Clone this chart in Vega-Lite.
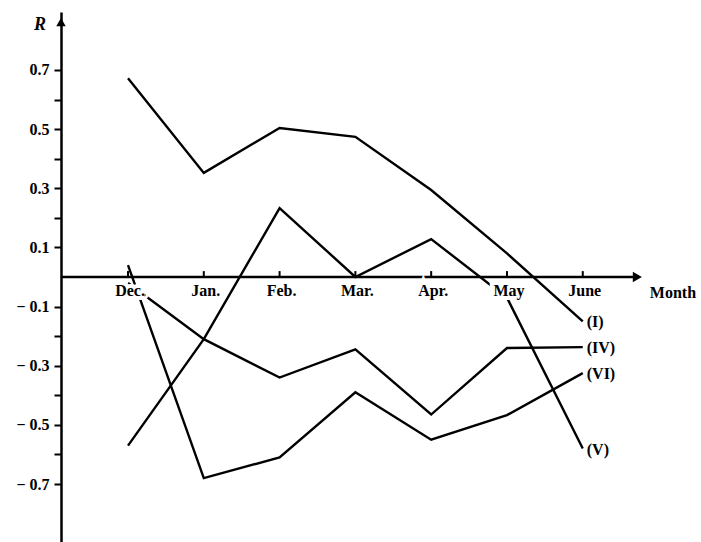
{
  "$schema": "https://vega.github.io/schema/vega-lite/v6.json",
  "width": 640,
  "height": 530,
  "autosize": "none",
  "padding": {"left": 61, "top": 12, "right": 0, "bottom": 0},
  "background": "white",
  "config": {"view": {"stroke": null}, "font": "Liberation Serif"},
  "datasets": {
    "series": [
      {"series": "I", "label": "(I)", "order": 1, "r": 0.672},
      {"series": "I", "label": "(I)", "order": 2, "r": 0.352},
      {"series": "I", "label": "(I)", "order": 3, "r": 0.504},
      {"series": "I", "label": "(I)", "order": 4, "r": 0.474},
      {"series": "I", "label": "(I)", "order": 5, "r": 0.294},
      {"series": "I", "label": "(I)", "order": 6, "r": 0.08},
      {"series": "I", "label": "(I)", "order": 7, "r": -0.15},
      {"series": "IV", "label": "(IV)", "order": 1, "r": -0.02},
      {"series": "IV", "label": "(IV)", "order": 2, "r": -0.21},
      {"series": "IV", "label": "(IV)", "order": 3, "r": -0.34},
      {"series": "IV", "label": "(IV)", "order": 4, "r": -0.245},
      {"series": "IV", "label": "(IV)", "order": 5, "r": -0.465},
      {"series": "IV", "label": "(IV)", "order": 6, "r": -0.24},
      {"series": "IV", "label": "(IV)", "order": 7, "r": -0.237},
      {"series": "V", "label": "(V)", "order": 1, "r": -0.57},
      {"series": "V", "label": "(V)", "order": 2, "r": -0.21},
      {"series": "V", "label": "(V)", "order": 3, "r": 0.233},
      {"series": "V", "label": "(V)", "order": 4, "r": 0.0},
      {"series": "V", "label": "(V)", "order": 5, "r": 0.128},
      {"series": "V", "label": "(V)", "order": 6, "r": -0.07},
      {"series": "V", "label": "(V)", "order": 7, "r": -0.58},
      {"series": "VI", "label": "(VI)", "order": 1, "r": 0.04},
      {"series": "VI", "label": "(VI)", "order": 2, "r": -0.68},
      {"series": "VI", "label": "(VI)", "order": 3, "r": -0.61},
      {"series": "VI", "label": "(VI)", "order": 4, "r": -0.39},
      {"series": "VI", "label": "(VI)", "order": 5, "r": -0.55},
      {"series": "VI", "label": "(VI)", "order": 6, "r": -0.467},
      {"series": "VI", "label": "(VI)", "order": 7, "r": -0.325}
    ],
    "months": [
      {"order": 1, "month": "Dec."},
      {"order": 2, "month": "Jan."},
      {"order": 3, "month": "Feb."},
      {"order": 4, "month": "Mar."},
      {"order": 5, "month": "Apr."},
      {"order": 6, "month": "May"},
      {"order": 7, "month": "June"}
    ],
    "one": [{"k": 1}]
  },
  "layer": [
    {
      "data": {"name": "one"},
      "mark": {"type": "rule", "color": "black", "strokeWidth": 2.5},
      "encoding": {
        "x": {"datum": 0.116, "type": "quantitative", "scale": {"domain": [0.116, 8.56], "nice": false, "zero": false}, "axis": null},
        "x2": {"datum": 7.7},
        "y": {
          "datum": 0, "type": "quantitative",
          "scale": {"domain": [-0.896, 0.896], "nice": false, "zero": false},
          "axis": {
            "values": [-0.7, -0.6, -0.5, -0.4, -0.3, -0.2, -0.1, 0.1, 0.2, 0.3, 0.4, 0.5, 0.6, 0.7],
            "labelExpr": "round(abs(datum.value)*10) % 2 == 1 ? (datum.value > 0 ? format(datum.value, '.1f') : '\u2212 ' + format(-datum.value, '.1f')) : ''",
            "domain": true, "domainColor": "black", "domainWidth": 2.5,
            "ticks": true, "tickColor": "black", "tickWidth": 2, "tickSize": 7,
            "labelFont": "Liberation Serif", "labelFontWeight": "bold", "labelFontSize": 16, "labelColor": "black",
            "labelPadding": 5, "labelBaseline": "middle", "grid": false, "title": null
          }
        }
      }
    },
    {
      "data": {"name": "one"},
      "mark": {"type": "point", "shape": "triangle-right", "filled": true, "color": "black", "size": 110, "opacity": 1},
      "encoding": {
        "x": {"datum": 7.72, "type": "quantitative"},
        "y": {"datum": 0, "type": "quantitative"}
      }
    },
    {
      "data": {"name": "one"},
      "mark": {"type": "point", "shape": "triangle-up", "filled": true, "color": "black", "size": 90, "opacity": 1},
      "encoding": {
        "x": {"datum": 0.116, "type": "quantitative"},
        "y": {"datum": 0.862, "type": "quantitative"}
      }
    },
    {
      "data": {"name": "months"},
      "mark": {"type": "rule", "color": "black", "strokeWidth": 2},
      "encoding": {
        "x": {"field": "order", "type": "quantitative"},
        "y": {"datum": 0, "type": "quantitative"},
        "y2": {"datum": 0.02}
      }
    },
    {
      "data": {"name": "series"},
      "mark": {"type": "line", "color": "black", "strokeWidth": 2.4, "strokeJoin": "miter"},
      "encoding": {
        "x": {"field": "order", "type": "quantitative"},
        "y": {"field": "r", "type": "quantitative"},
        "detail": {"field": "series"}
      }
    },
    {
      "data": {"name": "months"},
      "mark": {"type": "text", "font": "Liberation Serif", "fontWeight": "bold", "fontSize": 16, "fill": "white", "stroke": "white", "strokeWidth": 8, "baseline": "middle", "align": "center", "dx": 2, "dy": 14},
      "encoding": {
        "x": {"field": "order", "type": "quantitative"},
        "y": {"datum": 0, "type": "quantitative"},
        "text": {"field": "month"}
      }
    },
    {
      "data": {"name": "months"},
      "mark": {"type": "text", "font": "Liberation Serif", "fontWeight": "bold", "fontSize": 16, "color": "black", "baseline": "middle", "align": "center", "dx": 2, "dy": 14},
      "encoding": {
        "x": {"field": "order", "type": "quantitative"},
        "y": {"datum": 0, "type": "quantitative"},
        "text": {"field": "month"}
      }
    },
    {
      "data": {"name": "series"},
      "transform": [{"filter": "datum.order == 7"}],
      "mark": {"type": "text", "font": "Liberation Serif", "fontWeight": "bold", "fontSize": 16, "color": "black", "baseline": "middle", "align": "left", "dx": 4, "dy": 1},
      "encoding": {
        "x": {"field": "order", "type": "quantitative"},
        "y": {"field": "r", "type": "quantitative"},
        "text": {"field": "label"}
      }
    },
    {
      "data": {"name": "one"},
      "mark": {"type": "text", "text": "Month", "font": "Liberation Serif", "fontWeight": "bold", "fontSize": 16, "color": "black", "baseline": "middle", "align": "center", "dy": 16},
      "encoding": {
        "x": {"datum": 8.19, "type": "quantitative"},
        "y": {"datum": 0, "type": "quantitative"}
      }
    },
    {
      "data": {"name": "one"},
      "mark": {"type": "text", "text": "R", "font": "Liberation Serif", "fontWeight": "bold", "fontStyle": "italic", "fontSize": 18, "color": "black", "baseline": "middle", "align": "center"},
      "encoding": {
        "x": {"datum": -0.16, "type": "quantitative"},
        "y": {"datum": 0.852, "type": "quantitative"}
      }
    }
  ]
}
